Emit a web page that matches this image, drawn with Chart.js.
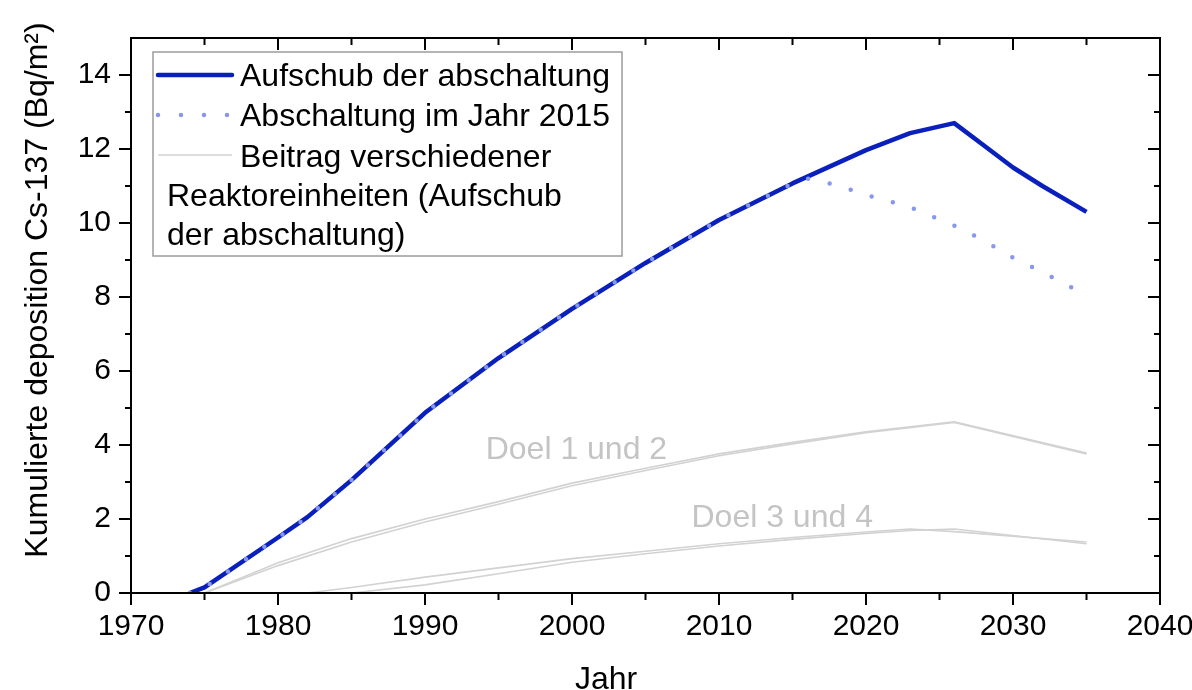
<!DOCTYPE html>
<html>
<head>
<meta charset="utf-8">
<script src="https://cdn.jsdelivr.net/npm/chart.js@4.4.0/dist/chart.umd.min.js"></script>
<style>
  html, body { margin: 0; padding: 0; background: #fff; }
  #wrap { width: 1192px; height: 690px; }
</style>
</head>
<body>
<div id="wrap"><canvas id="depChart"></canvas></div>
<script>
// Kumulierte Cs-137-Deposition, Szenarien Doel
const yearsAufschub = [1974, 1975, 1980, 1982, 1985, 1990, 1995, 2000, 2005, 2010, 2015, 2020, 2023, 2026, 2028, 2030, 2032, 2035];
const aufschub      = [0, 0.15, 1.5, 2.05, 3.05, 4.87, 6.35, 7.68, 8.92, 10.08, 11.07, 11.97, 12.43, 12.7, 12.1, 11.5, 11.0, 10.3];

const yearsStop2015 = [1974, 1975, 1980, 1982, 1985, 1990, 1995, 2000, 2005, 2010, 2015, 2016, 2018, 2020, 2023, 2026, 2028, 2030, 2032, 2035];
const stop2015      = [0, 0.15, 1.5, 2.05, 3.05, 4.87, 6.35, 7.68, 8.92, 10.08, 11.07, 11.2, 11.03, 10.76, 10.43, 9.93, 9.53, 9.06, 8.67, 8.05];

const yearsDoel12 = [1975, 1980, 1985, 1990, 1995, 2000, 2005, 2010, 2015, 2020, 2026, 2035];
const doel1       = [0, 0.82, 1.47, 2.0, 2.47, 2.97, 3.37, 3.76, 4.07, 4.36, 4.63, 3.78];
const doel2       = [0, 0.74, 1.38, 1.92, 2.4, 2.9, 3.31, 3.71, 4.03, 4.33, 4.61, 3.76];

const yearsDoel3 = [1982, 1985, 1990, 1995, 2000, 2005, 2010, 2015, 2020, 2023, 2026, 2035];
const doel3      = [0, 0.15, 0.43, 0.68, 0.93, 1.13, 1.33, 1.5, 1.65, 1.73, 1.66, 1.38];
const yearsDoel4 = [1985, 1990, 1995, 2000, 2005, 2010, 2015, 2020, 2023, 2026, 2035];
const doel4      = [0, 0.22, 0.52, 0.83, 1.06, 1.27, 1.45, 1.61, 1.69, 1.73, 1.33];

const legendLabels = ['Aufschub der abschaltung', 'Abschaltung im Jahr 2015', 'Beitrag verschiedener', 'Reaktoreinheiten (Aufschub', 'der abschaltung)'];
const xTitle = 'Jahr';
const yTitle = 'Kumulierte deposition Cs-137 (Bq/m²)';

const FONT = '"Liberation Sans", Arial, sans-serif';
const BLUE = '#0a20bd';
const LIGHTBLUE = '#8797ec';
const GREY = '#d2d2d2';

function pts(xs, ys) {
  return xs.map((x, i) => ({ x: x, y: ys[i] }));
}

function greyLine(xs, ys) {
  return {
    data: pts(xs, ys),
    borderColor: GREY,
    borderWidth: 1.6,
    pointRadius: 0,
    order: 3
  };
}

// Achsenrahmen, Ticks, Legende und Beschriftungen
const decorations = {
  id: 'decorations',
  afterDatasetsDraw(chart) {
    const { ctx, chartArea: a, scales: { x, y } } = chart;
    const seg = (x1, y1, x2, y2) => {
      ctx.beginPath();
      ctx.moveTo(x1, y1);
      ctx.lineTo(x2, y2);
      ctx.stroke();
    };
    ctx.save();

    // Reaktor-Beschriftungen
    ctx.font = '32px ' + FONT;
    ctx.fillStyle = '#c4c4c4';
    ctx.textAlign = 'center';
    ctx.textBaseline = 'middle';
    ctx.fillText('Doel 1 und 2', x.getPixelForValue(2000.3), y.getPixelForValue(3.86));
    ctx.fillText('Doel 3 und 4', x.getPixelForValue(2014.3), y.getPixelForValue(2.03));

    // Rahmen und Ticks
    ctx.strokeStyle = '#000';
    ctx.lineWidth = 2;
    for (let v = 0; v < 15; v++) {
      const py = y.getPixelForValue(v);
      const len = v % 2 === 0 ? 12 : 6;
      seg(a.left - len, py, a.left, py);
      seg(a.right - len, py, a.right, py);
    }
    for (let yr = 1975; yr < 2040; yr += 5) {
      const px = x.getPixelForValue(yr);
      const len = yr % 10 === 0 ? 12 : 7;
      seg(px, a.bottom, px, a.bottom + len);
      seg(px, a.top, px, a.top + len);
    }
    seg(a.left, a.bottom, a.left, a.bottom + 12);
    seg(a.right, a.bottom, a.right, a.bottom + 12);
    ctx.strokeRect(a.left, a.top, a.right - a.left, a.bottom - a.top);

    // Legende
    const lx = a.left + 22, ly = a.top + 14, lw = 469, lh = 204;
    ctx.fillStyle = '#fff';
    ctx.fillRect(lx, ly, lw, lh);
    ctx.strokeStyle = '#9c9c9c';
    ctx.lineWidth = 1.5;
    ctx.strokeRect(lx, ly, lw, lh);

    const rowY = [ly + 23, ly + 63, ly + 103, ly + 145, ly + 184];
    ctx.lineCap = 'round';
    ctx.strokeStyle = BLUE;
    ctx.lineWidth = 4.5;
    seg(lx + 5, rowY[0], lx + 79, rowY[0]);
    ctx.strokeStyle = LIGHTBLUE;
    ctx.setLineDash([0, 23]);
    seg(lx + 5, rowY[1], lx + 79, rowY[1]);
    ctx.setLineDash([]);
    ctx.lineCap = 'butt';
    ctx.strokeStyle = GREY;
    ctx.lineWidth = 1.6;
    seg(lx + 5, rowY[2], lx + 79, rowY[2]);

    ctx.font = '32px ' + FONT;
    ctx.fillStyle = '#000';
    ctx.textAlign = 'left';
    ctx.textBaseline = 'middle';
    ctx.fillText(legendLabels[0], lx + 87, rowY[0] + 2);
    ctx.fillText(legendLabels[1], lx + 87, rowY[1] + 2);
    ctx.fillText(legendLabels[2], lx + 87, rowY[2] + 3);
    ctx.fillText(legendLabels[3], lx + 14, rowY[3]);
    ctx.fillText(legendLabels[4], lx + 14, rowY[4]);

    // Achsentitel
    ctx.textAlign = 'center';
    ctx.fillText(xTitle, a.left + 475, 680);
    ctx.translate(38, 290);
    ctx.rotate(-Math.PI / 2);
    ctx.fillText(yTitle, 0, 0);
    ctx.restore();
  }
};

new Chart(document.getElementById('depChart'), {
  type: 'line',
  data: {
    datasets: [
      {
        data: pts(yearsStop2015, stop2015),
        borderColor: LIGHTBLUE,
        borderWidth: 4.5,
        borderDash: [0, 22],
        borderCapStyle: 'round',
        pointRadius: 0,
        order: 1
      },
      {
        data: pts(yearsAufschub, aufschub),
        borderColor: BLUE,
        borderWidth: 4.5,
        borderJoinStyle: 'round',
        pointRadius: 0,
        order: 2
      },
      greyLine(yearsDoel12, doel1),
      greyLine(yearsDoel12, doel2),
      greyLine(yearsDoel3, doel3),
      greyLine(yearsDoel4, doel4)
    ]
  },
  options: {
    responsive: true,
    maintainAspectRatio: false,
    animation: false,
    layout: { padding: { top: 38, right: 32, left: 0, bottom: 0 } },
    plugins: { legend: { display: false }, tooltip: { enabled: false } },
    scales: {
      x: {
        type: 'linear',
        min: 1970,
        max: 2040,
        border: { display: false },
        grid: { display: false, drawTicks: false },
        ticks: {
          stepSize: 10,
          padding: 16,
          color: '#000',
          font: { family: FONT, size: 30 },
          callback: (v) => String(v)
        },
        afterFit: (s) => {
          s.height = 97;
          s.paddingLeft = 0;
          s.paddingRight = 0;
        }
      },
      y: {
        min: 0,
        max: 15,
        border: { display: false },
        grid: { display: false, drawTicks: false },
        ticks: {
          stepSize: 2,
          includeBounds: false,
          padding: 20,
          color: '#000',
          font: { family: FONT, size: 30 }
        },
        afterFit: (s) => {
          s.width = 131;
          s.paddingTop = 0;
          s.paddingBottom = 0;
        }
      }
    }
  },
  plugins: [decorations]
});
</script>
</body>
</html>
